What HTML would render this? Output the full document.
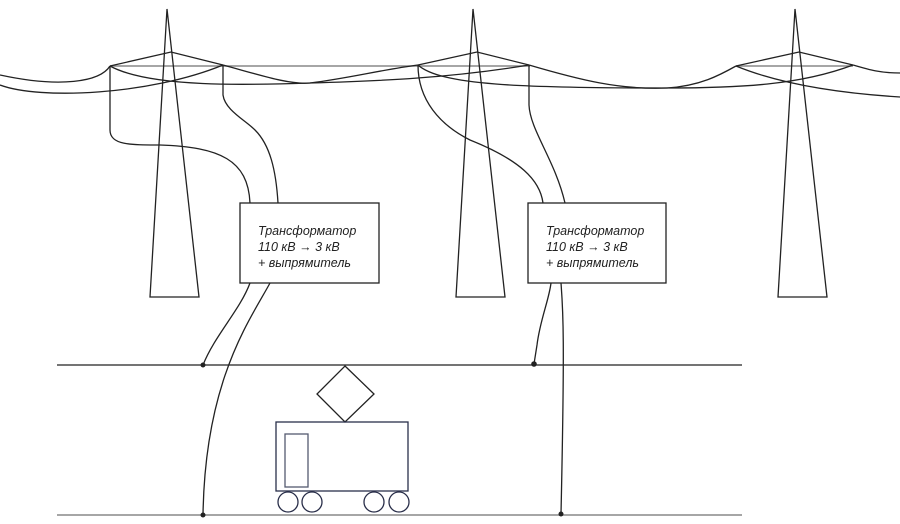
<!DOCTYPE html>
<html><head><meta charset="utf-8"><style>body{margin:0;background:#fff}svg{display:block}text{font-family:"Liberation Sans",sans-serif;font-style:italic;font-size:12.5px;fill:#222}</style></head><body>
<svg width="900" height="524" viewBox="0 0 900 524" xmlns="http://www.w3.org/2000/svg">
<g fill="none" stroke="#222" stroke-width="1.3">
<line x1="110" y1="66" x2="530" y2="66" stroke="#888" stroke-width="1.6"/>
<line x1="736" y1="66" x2="853" y2="66" stroke="#888" stroke-width="1.6"/>
<!-- towers -->
<path d="M167,9 L150,297 L199,297 Z"/>
<path d="M110,66 L171,52 L223,65"/>
<path d="M473,9 L456,297 L505,297 Z"/>
<path d="M418,65 L477,52 L529,65"/>
<path d="M795,9 L778,297 L827,297 Z"/>
<path d="M736,66 L799,52 L853,65"/>
<!-- wires -->
<path d="M0,75 C60,88 100,82 110,66"/>
<path d="M0,85 C40,100 150,95 223,65"/>
<path d="M110,66 C150,88 250,85 310,83 C380,81 450,78 529,65"/>
<path d="M223,65 C260,75 290,85 310,83 C350,78 380,70 418,65"/>
<path d="M418,65 C440,85 520,88 667,88 C740,88 800,85 853,65"/>
<path d="M529,65 C580,80 620,90 667,88 C700,86 720,75 736,66"/>
<path d="M736,66 C770,80 820,92 900,97"/>
<path d="M853,65 C870,70 880,73 900,73"/>
<!-- drops -->
<path d="M110,66 L110,130 C110,145 130,145 160,145 C220,147 248,160 250,203"/>
<path d="M223,65 L223,95 C225,110 245,120 255,130 C270,145 276,170 278,203"/>
<path d="M418,65 C418,100 440,125 470,140 C520,160 540,180 543,203"/>
<path d="M529,65 L529,105 C530,130 555,160 565,203"/>
<rect x="240" y="203" width="139" height="80"/>
<rect x="528" y="203" width="138" height="80"/>
<path d="M250,283 C240,310 215,335 203,365"/>
<path d="M270,283 C250,320 205,380 203,515"/>
<path d="M551,283 C549,300 540,320 537,345 L534,364"/>
<path d="M561,283 C563,310 565,330 561,514"/>
<line x1="57" y1="365" x2="742" y2="365"/>
<line x1="57" y1="515" x2="742" y2="515" stroke="#888" stroke-width="1.6"/>
<path d="M345,366 L374,394 L345,422 L317,394 Z"/>
</g>
<g fill="#222"><circle cx="203" cy="365" r="2.5"/><circle cx="203" cy="515" r="2.5"/><circle cx="534" cy="364" r="2.8"/><circle cx="561" cy="514" r="2.5"/></g>
<g fill="none" stroke="#2a2f4a" stroke-width="1.3">
<rect x="276" y="422" width="132" height="69"/>
<rect x="285" y="434" width="23" height="53" stroke="#555a70"/>
<circle cx="288" cy="502" r="10"/><circle cx="312" cy="502" r="10"/><circle cx="374" cy="502" r="10"/><circle cx="399" cy="502" r="10"/>
</g>
<text x="258" y="235">Трансформатор</text><text x="258" y="251">110 кВ → 3 кВ</text><text x="258" y="267">+ выпрямитель</text>
<text x="546" y="235">Трансформатор</text><text x="546" y="251">110 кВ → 3 кВ</text><text x="546" y="267">+ выпрямитель</text>
</svg></body></html>
